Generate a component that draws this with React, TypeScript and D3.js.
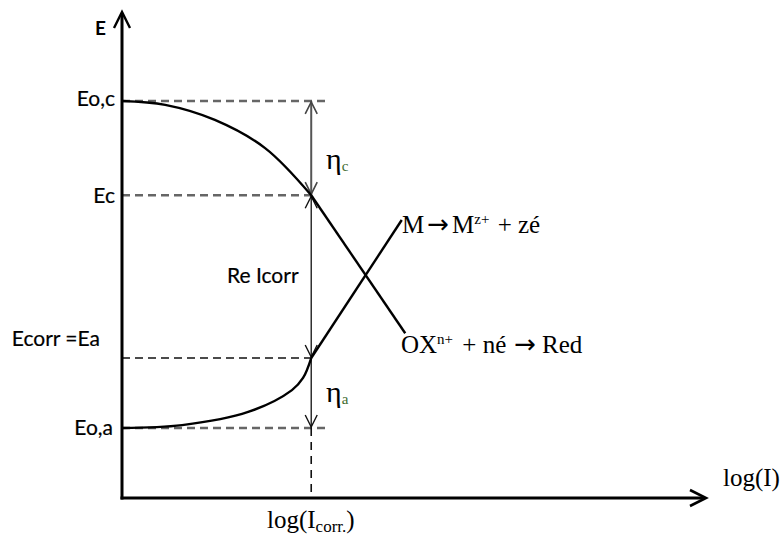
import React from "react";
import * as d3 from "d3";

// Polarisation diagram: E versus log(I)
const levelNames = ["Eo,c", "Ec", "Ecorr =Ea", "Eo,a"];
const levelValues = [8.17, 6.23, 2.88, 1.44];
const logIcorr = 3.24;

// Cathodic branch (curved part, then Tafel straight line)
const cathodicX = [0, 0.74, 1.59, 2.45, 3.24];
const cathodicE = [8.17, 8.09, 7.78, 7.2, 6.23];
const cathodicTafelX = [3.24, 4.85];
const cathodicTafelE = [6.23, 3.39];

// Anodic branch (curved part, then Tafel straight line)
const anodicX = [0, 1.03, 2.16, 2.91, 3.1, 3.24];
const anodicE = [1.44, 1.5, 1.77, 2.22, 2.47, 2.88];
const anodicTafelX = [3.24, 4.79];
const anodicTafelE = [2.88, 5.72];

const W = 782;
const H = 542;

export default function App() {
  const x = d3.scaleLinear().domain([0, 10]).range([122, 706]);
  const y = d3.scaleLinear().domain([0, 10]).range([498, 12]);

  const toPts = (xs: number[], es: number[]) => xs.map((v, i) => [v, es[i]] as [number, number]);
  const curve = d3
    .line<[number, number]>()
    .x((d) => x(d[0]))
    .y((d) => y(d[1]))
    .curve(d3.curveCatmullRom.alpha(0.5));
  const straight = d3
    .line<[number, number]>()
    .x((d) => x(d[0]))
    .y((d) => y(d[1]));

  const [eoc, ec, ecorr, eoa] = levelValues;
  const xi = x(logIcorr);
  const x0 = x(0);
  const xDashEnd = x(3.56);

  const head = (tx: number, ty: number, dir: "up" | "down", w = 6, l = 12) => {
    const s = dir === "up" ? 1 : -1;
    return `M${tx - w},${ty + s * l} L${tx},${ty} L${tx + w},${ty + s * l}`;
  };

  const sans = "Lato, 'Open Sans', sans-serif";
  const serif = "'Liberation Serif', 'DejaVu Serif', serif";
  const arrowFont = "'DejaVu Sans', sans-serif";

  const labelX = [115, 115, 100, 113];
  const labelDy = [5, 8, -12, 7];

  return (
    <svg width={W} height={H} style={{ position: "absolute", left: 0, top: 0, background: "#fff" }}>
      {/* horizontal dashed reference levels */}
      <line x1={x0} x2={xDashEnd} y1={y(eoc)} y2={y(eoc)} stroke="#666" strokeWidth={2.5} strokeDasharray="8 5" />
      <line x1={x0} x2={xi} y1={y(ec)} y2={y(ec)} stroke="#666" strokeWidth={2.5} strokeDasharray="8 5" />
      <line x1={x0} x2={xi} y1={y(ecorr)} y2={y(ecorr)} stroke="#111" strokeWidth={1.6} strokeDasharray="8 5" />
      <line x1={x0} x2={xDashEnd} y1={y(eoa)} y2={y(eoa)} stroke="#666" strokeWidth={2.5} strokeDasharray="8 5" />
      {/* vertical dashed drop to log(Icorr) */}
      <line x1={xi} x2={xi} y1={y(eoa)} y2={y(0)} stroke="#111" strokeWidth={1.6} strokeDasharray="8 6" />

      {/* overpotential arrows */}
      <line x1={xi} x2={xi} y1={y(eoc)} y2={y(ec)} stroke="#555" strokeWidth={2} />
      <path d={head(xi, y(eoc) + 1, "up")} fill="none" stroke="#444" strokeWidth={1.6} />
      <path d={head(xi, y(ec) - 1, "down")} fill="none" stroke="#444" strokeWidth={1.6} />
      <line x1={xi} x2={xi} y1={y(ec)} y2={y(ecorr)} stroke="#111" strokeWidth={1.3} />
      <path d={head(xi, y(ec) + 1, "up")} fill="none" stroke="#111" strokeWidth={1.4} />
      <path d={head(xi, y(ecorr) - 1, "down")} fill="none" stroke="#111" strokeWidth={1.4} />
      <line x1={xi} x2={xi} y1={y(ecorr)} y2={y(eoa)} stroke="#111" strokeWidth={1.3} />
      <path d={head(xi, y(eoa) - 1, "down")} fill="none" stroke="#111" strokeWidth={1.4} />

      {/* branches */}
      <path d={curve(toPts(cathodicX, cathodicE)) ?? ""} fill="none" stroke="#000" strokeWidth={2.4} />
      <path d={straight(toPts(cathodicTafelX, cathodicTafelE)) ?? ""} fill="none" stroke="#000" strokeWidth={2.4} />
      <path d={curve(toPts(anodicX, anodicE)) ?? ""} fill="none" stroke="#000" strokeWidth={2.4} />
      <path d={straight(toPts(anodicTafelX, anodicTafelE)) ?? ""} fill="none" stroke="#000" strokeWidth={2.4} />

      {/* axes */}
      <line x1={x0} x2={x0} y1={y(0) + 1.5} y2={y(10) + 1} stroke="#000" strokeWidth={3} />
      <path d={head(x0, y(10), "up", 8, 16)} fill="none" stroke="#000" strokeWidth={2.4} />
      <line x1={x0 - 1.5} x2={x(10) - 1} y1={y(0)} y2={y(0)} stroke="#000" strokeWidth={3.2} />
      <path
        d={`M${x(10) - 16},${y(0) - 8} L${x(10)},${y(0)} L${x(10) - 16},${y(0) + 8}`}
        fill="none"
        stroke="#000"
        strokeWidth={2.6}
      />

      {/* axis titles */}
      <text x={95} y={35} fontFamily={sans} fontWeight={700} fontSize={19} fill="#000">E</text>
      <text x={723} y={486} fontFamily={serif} fontSize={25} fill="#000">log(I)</text>
      <text x={267} y={528} fontFamily={serif} fontSize={25} fill="#000">
        log(I<tspan fontSize={17} dy={4}>corr.</tspan>
        <tspan dy={-4}>)</tspan>
      </text>

      {/* level labels */}
      {levelNames.map((name, i) => (
        <text
          key={name}
          x={labelX[i]}
          y={y(levelValues[i]) + labelDy[i]}
          textAnchor="end"
          fontFamily={sans}
          fontSize={21}
          fill="#000"
          stroke="#000"
          strokeWidth={0.2}
        >
          {name}
        </text>
      ))}

      <text x={227} y={283} fontFamily={sans} fontSize={21} fill="#000" stroke="#000" strokeWidth={0.2}>
        Re Icorr
      </text>

      {/* overpotential symbols */}
      <text x={326} y={169} fontFamily={serif} fontSize={30} fill="#000">
        η<tspan fontSize={15} dy={2} fill="#3d6b2f">c</tspan>
      </text>
      <text x={326} y={402} fontFamily={serif} fontSize={30} fill="#000">
        η<tspan fontSize={15} dy={2} fill="#3d6b2f">a</tspan>
      </text>

      {/* reaction labels */}
      <text x={402} y={233} fontFamily={serif} fontSize={25} fill="#000">
        <tspan>M</tspan>
        <tspan dx={3} fontFamily={arrowFont} fontSize={26}>→</tspan>
        <tspan dx={3}>M</tspan>
        <tspan fontSize={15} dy={-9}>z+</tspan>
        <tspan dy={9} dx={2}> + zé</tspan>
      </text>
      <text x={401} y={353} fontFamily={serif} fontSize={25} fill="#000">
        <tspan>OX</tspan>
        <tspan fontSize={15} dy={-9}>n+</tspan>
        <tspan dy={9} dx={3}> + né</tspan>
        <tspan dx={8} fontFamily={arrowFont} fontSize={26}>→</tspan>
        <tspan dx={6}>Red</tspan>
      </text>
    </svg>
  );
}
